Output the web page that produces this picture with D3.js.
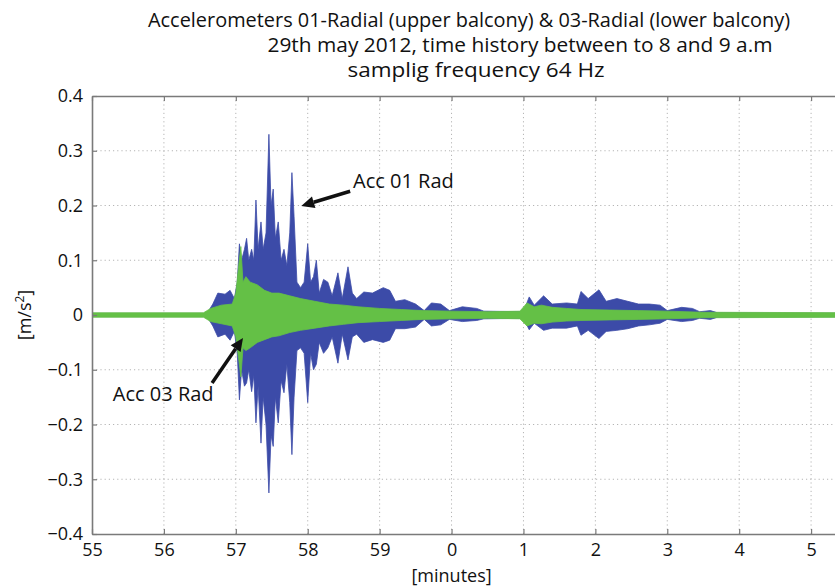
<!DOCTYPE html>
<html><head><meta charset="utf-8">
<script src="https://cdn.jsdelivr.net/npm/d3@7"></script>
<style>body{margin:0;background:#fff}</style>
</head><body>
<script>
// ---------- DATA ----------
const titleLines = [
  "Accelerometers 01-Radial (upper balcony) & 03-Radial (lower balcony)",
  "29th may 2012, time history between to 8 and 9 a.m",
  "samplig frequency 64 Hz"
];
const xTicks = [55,56,57,58,59,60,61,62,63,64,65];
const xTickLabels = ["55","56","57","58","59","0","1","2","3","4","5"];
const yTicks = [-0.4,-0.3,-0.2,-0.1,0,0.1,0.2,0.3,0.4];
const yTickLabels = ["\u22120.4","\u22120.3","\u22120.2","\u22120.1","0","0.1","0.2","0.3","0.4"];

// Acc 01 Rad (blue) envelope: time [min], max, min [m/s^2]
const acc01Time = [55.0,56.6,56.68,56.75,56.85,56.92,56.98,57.02,57.05,57.08,57.12,57.15,57.18,57.22,57.25,57.28,57.31,57.35,57.38,57.42,57.46,57.49,57.52,57.55,57.59,57.63,57.67,57.71,57.75,57.78,57.81,57.85,57.90,57.95,58.00,58.04,58.08,58.12,58.16,58.22,58.28,58.34,58.42,58.48,58.56,58.62,58.68,58.78,58.90,59.05,59.14,59.22,59.35,59.50,59.62,59.72,59.85,59.97,60.15,60.35,60.45,61.00,61.08,61.15,61.28,61.40,61.60,61.75,61.80,61.90,62.05,62.15,62.30,62.45,62.60,62.75,62.90,63.00,63.20,63.35,63.45,63.60,63.70,66.00];
const acc01Max = [0.003,0.003,0.02,0.04,0.038,0.045,0.03,0.06,0.13,0.10,0.12,0.14,0.10,0.12,0.10,0.21,0.12,0.17,0.12,0.15,0.33,0.20,0.23,0.14,0.17,0.10,0.12,0.09,0.15,0.26,0.18,0.06,0.05,0.06,0.13,0.06,0.07,0.10,0.04,0.065,0.06,0.035,0.077,0.03,0.088,0.04,0.03,0.042,0.04,0.05,0.045,0.025,0.028,0.02,0.008,0.022,0.02,0.008,0.015,0.012,0.007,0.006,0.033,0.018,0.035,0.02,0.022,0.02,0.043,0.03,0.046,0.025,0.03,0.025,0.02,0.02,0.018,0.008,0.014,0.012,0.006,0.008,0.004,0.003];
const acc01Min = [-0.003,-0.003,-0.02,-0.04,-0.035,-0.046,-0.03,-0.07,-0.155,-0.10,-0.13,-0.124,-0.10,-0.14,-0.11,-0.197,-0.13,-0.234,-0.15,-0.20,-0.325,-0.22,-0.24,-0.15,-0.197,-0.12,-0.142,-0.09,-0.16,-0.255,-0.15,-0.065,-0.06,-0.07,-0.16,-0.07,-0.10,-0.09,-0.05,-0.07,-0.06,-0.04,-0.088,-0.035,-0.082,-0.04,-0.035,-0.05,-0.045,-0.05,-0.046,-0.025,-0.025,-0.022,-0.008,-0.02,-0.018,-0.008,-0.012,-0.01,-0.007,-0.006,-0.027,-0.015,-0.028,-0.024,-0.024,-0.02,-0.037,-0.028,-0.043,-0.03,-0.028,-0.025,-0.02,-0.018,-0.015,-0.008,-0.012,-0.01,-0.006,-0.008,-0.004,-0.003];

// Acc 03 Rad (green) envelope
const acc03Time = [55.0,56.55,56.65,56.8,56.95,57.0,57.04,57.07,57.1,57.14,57.2,57.3,57.4,57.5,57.6,57.75,57.9,58.1,58.3,58.5,58.7,59.0,59.3,59.6,60.0,60.5,60.95,61.05,61.15,61.25,61.4,61.6,61.8,62.2,62.6,63.0,63.5,66.0];
const acc03Max = [0.004,0.004,0.012,0.018,0.02,0.04,0.09,0.125,0.06,0.07,0.06,0.055,0.045,0.04,0.04,0.035,0.03,0.025,0.02,0.018,0.015,0.012,0.01,0.008,0.007,0.006,0.007,0.022,0.015,0.018,0.014,0.012,0.01,0.009,0.008,0.007,0.005,0.004];
const acc03Min = [-0.004,-0.004,-0.012,-0.016,-0.02,-0.04,-0.08,-0.113,-0.06,-0.065,-0.06,-0.05,-0.045,-0.04,-0.038,-0.032,-0.028,-0.024,-0.02,-0.017,-0.014,-0.012,-0.01,-0.008,-0.007,-0.006,-0.007,-0.02,-0.015,-0.016,-0.013,-0.011,-0.01,-0.009,-0.008,-0.007,-0.005,-0.004];

// annotations (data units): label, text anchor point, arrow tail, arrow head
const annoLabels = ["Acc 01 Rad","Acc 03 Rad"];
const annoText = [[58.63,0.232],[55.29,-0.157]];
const annoTail = [[58.59,0.226],[56.67,-0.124]];
const annoHead = [[57.91,0.199],[57.10,-0.042]];

// ---------- CHART ----------
const W = 835, H = 587;
const m = {left:92, top:96, bottom:534, right:883};
const blue = "#3c4ba8", green = "#64c046";
const font = "'Open Sans', 'Noto Sans', sans-serif";

const svg = d3.select("body").append("svg").attr("width",W).attr("height",H)
  .style("background","#fff").attr("font-family",font);

const x = d3.scaleLinear().domain([55,66]).range([m.left,m.right]);
const y = d3.scaleLinear().domain([-0.4,0.4]).range([m.bottom,m.top]);

svg.append("defs").append("clipPath").attr("id","plot")
  .append("rect").attr("x",m.left).attr("y",m.top)
  .attr("width",m.right-m.left).attr("height",m.bottom-m.top);

// grid
const grid = svg.append("g").attr("stroke","#b5b5b5").attr("stroke-width",1)
  .attr("stroke-dasharray","1.2,3");
grid.selectAll(".gx").data(xTicks.slice(1)).join("line")
  .attr("x1",d=>x(d)).attr("x2",d=>x(d)).attr("y1",m.top).attr("y2",m.bottom);
grid.selectAll(".gy").data(yTicks.slice(1,-1)).join("line")
  .attr("x1",m.left).attr("x2",m.right).attr("y1",d=>y(d)).attr("y2",d=>y(d));

// signals
const plot = svg.append("g").attr("clip-path","url(#plot)");
const a01 = acc01Time.map((t,i)=>({t, hi:acc01Max[i], lo:acc01Min[i]}));
const a03 = acc03Time.map((t,i)=>({t, hi:acc03Max[i], lo:acc03Min[i]}));
const area = d3.area().x(d=>x(d.t)).y0(d=>y(d.lo)).y1(d=>y(d.hi)).curve(d3.curveLinear);
plot.append("path").datum(a01).attr("d",area).attr("fill",blue)
  .attr("stroke",blue).attr("stroke-width",0.8);
plot.append("path").datum(a03).attr("d",area).attr("fill",green)
  .attr("stroke",green).attr("stroke-width",0.8);

// axes
const axCol = "#7a7a7a";
const gxB = svg.append("g").attr("transform",`translate(0,${m.bottom})`)
  .call(d3.axisBottom(x).tickValues(xTicks).tickFormat((d,i)=>xTickLabels[i]).tickSizeInner(-5).tickSizeOuter(0).tickPadding(9));
const gxT = svg.append("g").attr("transform",`translate(0,${m.top})`)
  .call(d3.axisTop(x).tickValues(xTicks).tickFormat("").tickSizeInner(-5).tickSizeOuter(0));
const gyL = svg.append("g").attr("transform",`translate(${m.left},0)`)
  .call(d3.axisLeft(y).tickValues(yTicks).tickFormat((d,i)=>yTickLabels[i]).tickSizeInner(-5).tickSizeOuter(0).tickPadding(9));
[gxB,gxT,gyL].forEach(g=>{
  g.select(".domain").attr("stroke",axCol).attr("stroke-width",1.6);
  g.selectAll(".tick line").attr("stroke",axCol).attr("stroke-width",1.2);
  g.selectAll("text").attr("font-family",font).attr("font-size",18).attr("fill","#111");
});

// title
const titleX = [469,520,476], titleY = [27,52,77], titleLen = [642,505,257];
titleLines.forEach((t,i)=>{
  svg.append("text").attr("x",titleX[i]).attr("y",titleY[i]).attr("text-anchor","middle")
    .attr("font-size",20).attr("fill","#111")
    .attr("textLength",titleLen[i]).attr("lengthAdjust","spacingAndGlyphs").text(t);
});

// axis labels
svg.append("text").attr("x",x(60)).attr("y",582).attr("text-anchor","middle")
  .attr("font-size",18).attr("fill","#111").text("[minutes]");
const yl = svg.append("text").attr("transform",`translate(31,${y(0)}) rotate(-90)`)
  .attr("text-anchor","middle").attr("font-size",18).attr("fill","#111");
yl.append("tspan").text("[m/s");
yl.append("tspan").attr("font-size",12).attr("dy",-7).text("2");
yl.append("tspan").attr("dy",7).text("]");

// annotations
annoLabels.forEach((lab,i)=>{
  svg.append("text").attr("x",x(annoText[i][0])).attr("y",y(annoText[i][1]))
    .attr("font-size",20).attr("fill","#111").text(lab);
  const x1=x(annoTail[i][0]), y1=y(annoTail[i][1]), x2=x(annoHead[i][0]), y2=y(annoHead[i][1]);
  const ang=Math.atan2(y2-y1,x2-x1), L=13, Wd=6;
  const bx=x2-L*Math.cos(ang), by=y2-L*Math.sin(ang);
  svg.append("line").attr("x1",x1).attr("y1",y1).attr("x2",bx).attr("y2",by)
    .attr("stroke","#111").attr("stroke-width",3.5);
  svg.append("path").attr("fill","#111").attr("d",
    `M${x2},${y2}L${bx+Wd*Math.sin(ang)},${by-Wd*Math.cos(ang)}L${bx-Wd*Math.sin(ang)},${by+Wd*Math.cos(ang)}Z`);
});
</script>
</body></html>
